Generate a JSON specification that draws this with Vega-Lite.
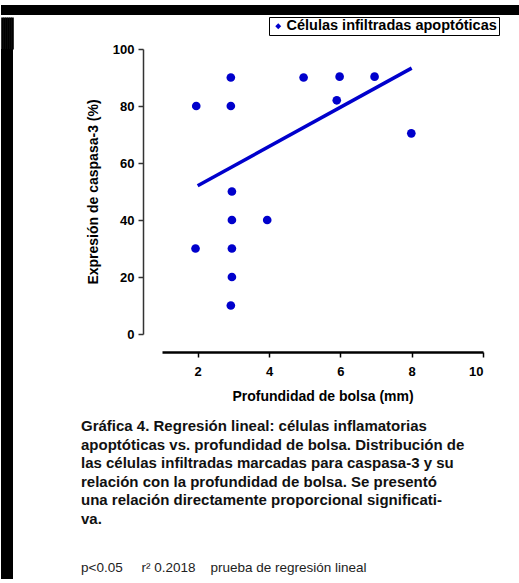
{
  "$schema": "https://vega.github.io/schema/vega-lite/v6.json",
  "padding": {"top": 5, "left": 0, "right": 0, "bottom": 0},
  "background": "white",
  "config": {"view": {"stroke": null}, "font": "Liberation Sans"},
  "spacing": 0,
  "resolve": {"scale": {"color": "independent"}, "legend": {"color": "independent"}},
  "vconcat": [
    {
      "width": 519, "height": 10,
      "view": {"fill": "black", "stroke": null},
      "data": {"values": []},
      "mark": "rule",
      "encoding": {}
    },
    {
      "spacing": 67,
      "resolve": {"scale": {"color": "independent", "x": "independent", "y": "independent"}, "legend": {"color": "independent"}},
      "hconcat": [
        {
          "width": 12, "height": 530,
          "view": {"fill": "black", "stroke": null},
          "data": {"values": [{}]},
          "mark": {"type": "rule", "color": "black", "strokeWidth": 12, "strokeCap": "butt"},
          "encoding": {
            "x": {
              "datum": 0.5, "type": "quantitative",
              "scale": {"domain": [0, 1], "nice": false, "zero": false},
              "axis": {
                "orient": "top", "values": [0.1, 0.25, 0.4167, 0.5833, 0.75, 0.9], "title": null,
                "labels": false, "domain": false, "grid": false,
                "ticks": true, "tickSize": 32, "tickWidth": 2.6, "tickColor": "black", "tickCap": "butt"
              }
            }
          }
        },
        {
          "width": 321, "height": 285,
          "title": {
            "text": [
              "Gráfica 4. Regresión lineal: células inflamatorias",
              "apoptóticas vs. profundidad de bolsa. Distribución de",
              "las células infiltradas marcadas para caspasa-3 y su",
              "relación con la profundidad de bolsa. Se presentó",
              "una relación directamente proporcional significati-",
              "va."
            ],
            "subtitle": "p<0.05\u00a0\u00a0\u00a0\u00a0\u00a0r² 0.2018\u00a0\u00a0\u00a0\u00a0prueba de regresión lineal",
            "orient": "bottom",
            "anchor": "start",
            "frame": "group",
            "dx": -81,
            "offset": 16,
            "font": "Liberation Sans",
            "fontSize": 15,
            "fontWeight": "bold",
            "lineHeight": 18.6,
            "color": "#111111",
            "subtitleFont": "Liberation Sans",
            "subtitleFontSize": 13.5,
            "subtitleFontWeight": "normal",
            "subtitleColor": "#222222",
            "subtitlePadding": 34
          },
          "layer": [
            {
              "data": {"values": [{"x": 2, "y": 52}, {"x": 8, "y": 93.3}]},
              "mark": {"type": "line", "color": "#0000CC", "strokeWidth": 3.5},
              "encoding": {
                "x": {"field": "x", "type": "quantitative", "scale": {"domain": [1, 10], "nice": false, "zero": false}},
                "y": {"field": "y", "type": "quantitative", "scale": {"domain": [0, 100], "nice": false}}
              }
            },
            {
              "data": {"values": [
                {"serie": "Células infiltradas apoptóticas", "x": 1.96, "y": 80},
                {"serie": "Células infiltradas apoptóticas", "x": 1.94, "y": 30},
                {"serie": "Células infiltradas apoptóticas", "x": 2.93, "y": 90},
                {"serie": "Células infiltradas apoptóticas", "x": 2.93, "y": 80},
                {"serie": "Células infiltradas apoptóticas", "x": 2.96, "y": 50},
                {"serie": "Células infiltradas apoptóticas", "x": 2.96, "y": 40},
                {"serie": "Células infiltradas apoptóticas", "x": 2.96, "y": 30},
                {"serie": "Células infiltradas apoptóticas", "x": 2.96, "y": 20},
                {"serie": "Células infiltradas apoptóticas", "x": 2.93, "y": 10},
                {"serie": "Células infiltradas apoptóticas", "x": 3.95, "y": 40},
                {"serie": "Células infiltradas apoptóticas", "x": 4.97, "y": 90},
                {"serie": "Células infiltradas apoptóticas", "x": 5.98, "y": 90.3},
                {"serie": "Células infiltradas apoptóticas", "x": 5.9, "y": 82},
                {"serie": "Células infiltradas apoptóticas", "x": 6.96, "y": 90.3},
                {"serie": "Células infiltradas apoptóticas", "x": 7.99, "y": 70.4}
              ]},
              "mark": {"type": "point", "filled": true, "shape": "circle", "size": 75, "opacity": 1},
              "encoding": {
                "x": {
                  "field": "x", "type": "quantitative",
                  "scale": {"domain": [1, 10], "nice": false, "zero": false},
                  "axis": {
                    "values": [2, 4, 6, 8, 10],
                    "title": "Profundidad de bolsa (mm)",
                    "offset": 18, "grid": false,
                    "domainColor": "black", "domainWidth": 2.5,
                    "tickColor": "black", "tickSize": 5, "tickWidth": 1.5,
                    "labelFont": "Liberation Sans", "labelFontSize": 13, "labelFontWeight": "bold", "labelColor": "black", "labelPadding": 8,
                    "titleFont": "Liberation Sans", "titleFontSize": 14, "titleFontWeight": "bold", "titleColor": "black", "titlePadding": 11
                  }
                },
                "y": {
                  "field": "y", "type": "quantitative",
                  "scale": {"domain": [0, 100], "nice": false},
                  "axis": {
                    "values": [0, 20, 40, 60, 80, 100],
                    "title": "Expresión de caspasa-3 (%)",
                    "offset": 19, "grid": false,
                    "domainColor": "#333333", "domainWidth": 1.5,
                    "tickColor": "#333333", "tickSize": 5, "tickWidth": 1.5,
                    "labelFont": "Liberation Sans", "labelFontSize": 13, "labelFontWeight": "bold", "labelColor": "black", "labelPadding": 4,
                    "titleFont": "Liberation Sans", "titleFontSize": 14, "titleFontWeight": "bold", "titleColor": "black", "titlePadding": 12
                  }
                },
                "color": {
                  "field": "serie", "type": "nominal",
                  "scale": {"range": ["#0000CC"]},
                  "legend": {
                    "title": null,
                    "orient": "none", "legendX": 107, "legendY": -32,
                    "symbolType": "diamond", "symbolSize": 35, "symbolStrokeWidth": 0,
                    "labelFont": "Liberation Sans", "labelFontSize": 14.5, "labelFontWeight": "bold", "labelColor": "black", "labelOffset": 1, "labelLimit": 400,
                    "strokeColor": "black", "fillColor": "white", "padding": 2
                  }
                }
              }
            }
          ]
        }
      ]
    },
    {
      "width": 519, "height": 1,
      "view": {"fill": "#808080", "stroke": null},
      "data": {"values": []},
      "mark": "rule",
      "encoding": {}
    }
  ]
}
